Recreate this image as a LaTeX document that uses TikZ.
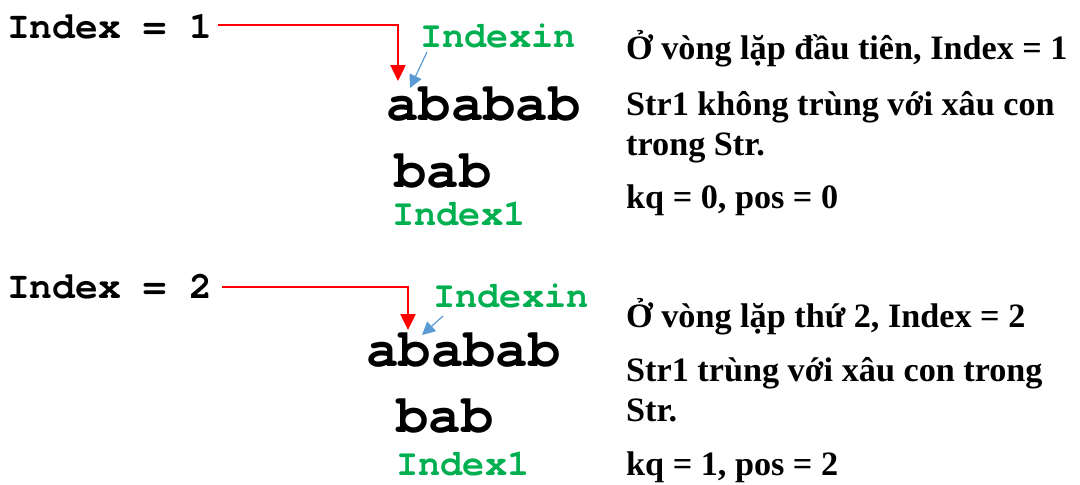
\documentclass[tikz,border=0pt]{standalone}
\usepackage{fontspec}
\setmainfont{Liberation Serif}
\newfontfamily\codefont{texgyrecursor}[Extension=.otf,UprightFont=*-regular,BoldFont=*-bold]
\usetikzlibrary{arrows.meta}
\definecolor{codegreen}{HTML}{00B050}
\definecolor{arrowblue}{HTML}{5B9BD5}
\definecolor{arrowred}{HTML}{FF0000}
\tikzset{
  code/.style={anchor=base west,inner sep=0pt,font=\codefont\bfseries\fontsize{37}{37}\selectfont},
  idxcode/.style={anchor=base west,inner sep=0pt,font=\codefont\bfseries\fontsize{38}{38}\selectfont},
  bigcode/.style={anchor=base west,inner sep=0pt,font=\codefont\bfseries\fontsize{54}{54}\selectfont},
  greencode/.style={code,text=codegreen},
  expl/.style={anchor=base west,inner sep=0pt,font=\bfseries\fontsize{34.2}{34.2}\selectfont},
  redarrow/.style={draw=arrowred,line width=2.5pt,-{Triangle[width=15pt,length=16pt]}},
  bluearrow/.style={draw=arrowblue,line width=1.2pt,-{Triangle[width=13pt,length=13pt]}}
}
\begin{document}
\begin{tikzpicture}[x=1pt,y=-1pt]
\useasboundingbox (0,0) rectangle (1080,485);
% ---- first loop ----
\node[idxcode] (idxA) at (7,38) {Index = 1};
\node[greencode] (inA) at (420,47) {Indexin};
\node[bigcode] (strA) at (386,120) {ababab};
\node[bigcode] (subA) at (394,187) {bab};
\node[greencode] (oneA) at (392,225) {Index1};
\coordinate (rsA) at (218,25);
\coordinate (rcA) at (398,25);
\coordinate (reA) at (398,81);
\coordinate (bsA) at (427,52);
\coordinate (beA) at (410,88);
\draw[redarrow] (rsA) -- (rcA) -- (reA);
\draw[bluearrow] (bsA) -- (beA);
\node[expl] (tA1) at (626,59) {Ở vòng lặp đầu tiên, Index = 1};
\node[expl] (tA2) at (626,115) {Str1 không trùng với xâu con};
\node[expl] (tA3) at (626,155) {trong Str.};
\node[expl] (tA4) at (626,208) {kq = 0, pos = 0};
% ---- second loop ----
\node[idxcode] (idxB) at (7,298) {Index = 2};
\node[greencode] (inB) at (433,307) {Indexin};
\node[bigcode] (strB) at (366,366) {ababab};
\node[bigcode] (subB) at (396,432) {bab};
\node[greencode] (oneB) at (396,475) {Index1};
\coordinate (rsB) at (222,287);
\coordinate (rcB) at (408,287);
\coordinate (reB) at (408,330);
\coordinate (bsB) at (443,316);
\coordinate (beB) at (422,335);
\draw[redarrow] (rsB) -- (rcB) -- (reB);
\draw[bluearrow] (bsB) -- (beB);
\node[expl] (tB1) at (626,327) {Ở vòng lặp thứ 2, Index = 2};
\node[expl] (tB2) at (626,381) {Str1 trùng với xâu con trong};
\node[expl] (tB3) at (626,421) {Str.};
\node[expl] (tB4) at (626,475) {kq = 1, pos = 2};
\end{tikzpicture}
\end{document}
